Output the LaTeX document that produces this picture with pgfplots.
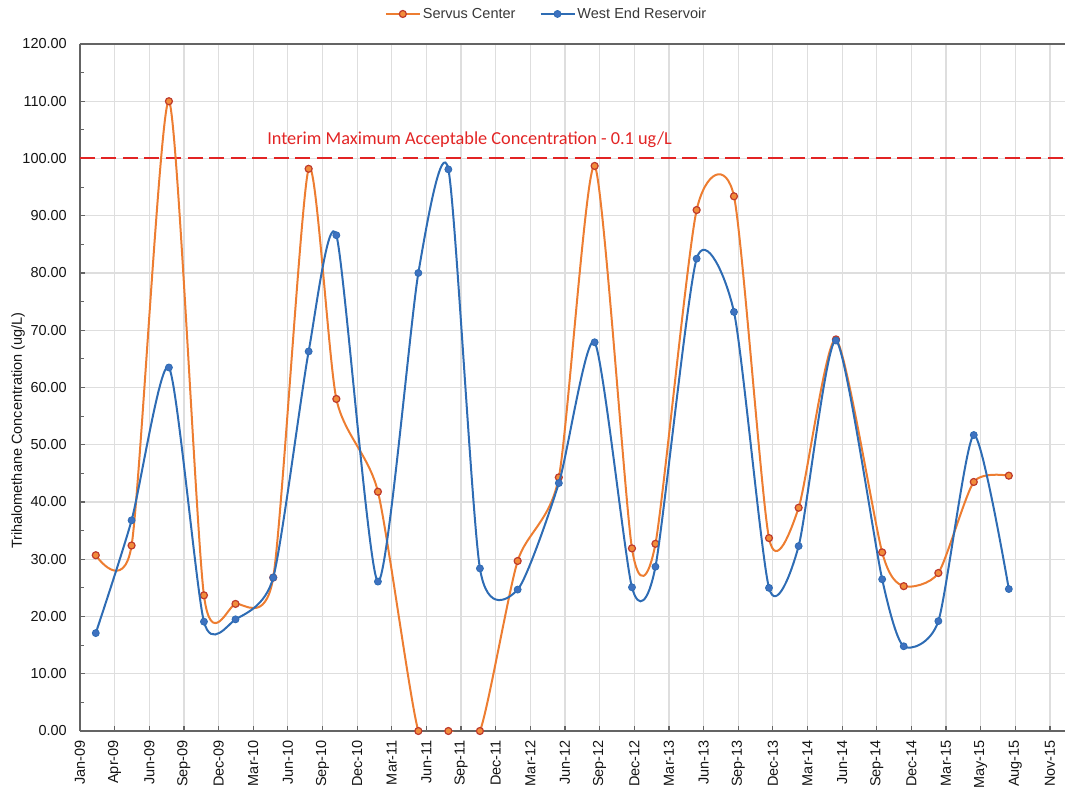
\documentclass[border=0pt]{standalone}
\usepackage{fontspec}
\setmainfont{Liberation Sans}
\newfontfamily\calibri{Carlito}
\usepackage{pgfplots}
\pgfplotsset{compat=1.18}

\definecolor{servus}{RGB}{237,125,49}
\definecolor{servusfill}{RGB}{242,140,58}
\definecolor{servusedge}{RGB}{190,58,44}
\definecolor{westend}{RGB}{46,108,180}
\definecolor{westendfill}{RGB}{62,114,192}
\definecolor{limitred}{RGB}{226,36,36}
\definecolor{gridgray}{RGB}{222,222,222}
\definecolor{axisgray}{RGB}{100,100,100}

% x values are days counted from 1 Jan 2009; ticks every 90 days
\begin{document}
\begin{tikzpicture}
\begin{axis}[
  at={(0,0)}, anchor=south west,
  scale only axis, width=985bp, height=687bp,
  xmin=0, xmax=2559, ymin=0, ymax=120,
  axis x line*=box, axis y line*=left,
  xtick pos=left, ytick pos=left,
  axis line style={axisgray, line width=1.5bp},
  xtick={0,90,...,2520},
  xticklabels={Jan-09,Apr-09,Jun-09,Sep-09,Dec-09,Mar-10,Jun-10,Sep-10,Dec-10,Mar-11,Jun-11,Sep-11,Dec-11,Mar-12,Jun-12,Sep-12,Dec-12,Mar-13,Jun-13,Sep-13,Dec-13,Mar-14,Jun-14,Sep-14,Dec-14,Mar-15,May-15,Aug-15,Nov-15},
  ytick={0,10,...,120},
  yticklabels={0.00,10.00,20.00,30.00,40.00,50.00,60.00,70.00,80.00,90.00,100.00,110.00,120.00},
  minor ytick={5,15,...,115},
  tick align=inside,
  major tick length=5bp, minor tick length=4bp,
  every tick/.style={axisgray, line width=1.2bp},
  grid=major, major grid style={gridgray, line width=1.2bp},
  /pgf/number format/assume math mode=true,
  tick label style={font=\fontsize{14.5bp}{17bp}\selectfont, text=black!92},
  xticklabel style={rotate=90, anchor=east, inner sep=0pt},
  yticklabel style={anchor=east, inner sep=0pt},
  xticklabel shift=9bp, yticklabel shift=13bp,
  ylabel={Trihalomethane Concentration (ug/L)},
  ylabel style={at={(axis description cs:-0.0629,0.437)}, anchor=center,
    font=\fontsize{14.5bp}{17bp}\selectfont, text=black!92},
  clip mode=individual,
  legend style={at={(axis description cs:0.4736,1.0437)}, anchor=center,
    draw=none, fill=none, inner sep=0pt, legend columns=2,
    font=\fontsize{14.5bp}{17bp}\selectfont, text=black!78,
    /tikz/every even column/.append style={column sep=22bp}},
  legend cell align=left,
  legend image code/.code={\draw[mark repeat=2,mark phase=2,#1]
    plot coordinates {(0bp,0bp) (17bp,0bp) (34bp,0bp)};},
]
% regulatory limit
\addplot[limitred, line width=2bp, dash pattern=on 15bp off 6.5bp, forget plot]
  coordinates {(0,100) (2559,100)};

\addplot[servus, line width=2bp, smooth, tension=0.4,
  mark=*, mark size=3.5bp, mark options={solid, fill=servusfill, draw=servusedge, line width=1.2bp}]
  coordinates {
  (41,30.7) (134,32.4) (231,110.0) (322,23.7) (404,22.2) (502,26.8)
  (594,98.2) (666,58.0) (774,41.8) (879,0) (957,0) (1039,0)
  (1137,29.7) (1244,44.3) (1337,98.7) (1434,31.9) (1495,32.7) (1602,91.0)
  (1699,93.4) (1790,33.7) (1867,39.0) (1964,68.4) (2084,31.2) (2140,25.3)
  (2230,27.6) (2322,43.5) (2413,44.6)};
\addlegendentry{Servus Center}

\addplot[westend, line width=2bp, smooth, tension=0.4,
  mark=*, mark size=3.5bp, mark options={solid, fill=westendfill, draw=westend, line width=0.8bp}]
  coordinates {
  (41,17.1) (134,36.8) (231,63.5) (322,19.1) (404,19.5) (502,26.8)
  (594,66.3) (666,86.6) (774,26.1) (879,80.0) (957,98.1) (1039,28.4)
  (1137,24.7) (1244,43.3) (1337,67.9) (1434,25.1) (1495,28.7) (1602,82.5)
  (1699,73.2) (1790,25.0) (1867,32.3) (1964,68.2) (2084,26.5) (2140,14.8)
  (2230,19.2) (2322,51.7) (2413,24.8)};
\addlegendentry{West End Reservoir}

\node[font=\calibri\fontsize{18.3bp}{22bp}\selectfont, text=limitred, anchor=base]
  at (axis cs:1012,102.4) {Interim Maximum Acceptable Concentration - 0.1 ug/L};
\end{axis}
\pgfresetboundingbox
\useasboundingbox (-80bp,-60bp) rectangle (985bp,731bp);
\end{tikzpicture}
\end{document}
